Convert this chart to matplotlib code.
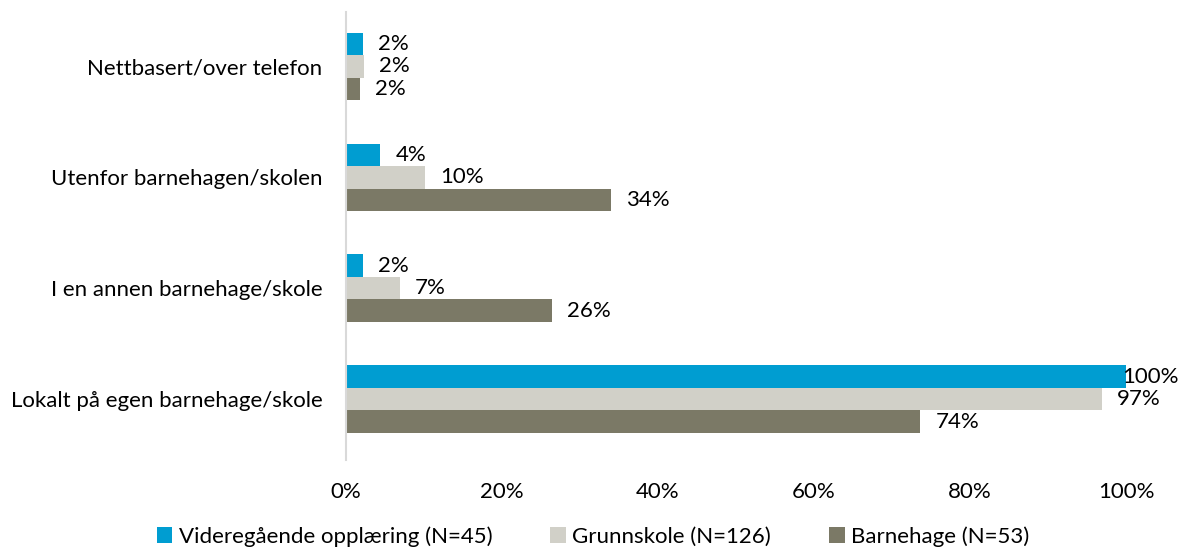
import matplotlib.pyplot as plt
import numpy as np

plt.rcParams['font.family'] = ['Lato', 'DejaVu Sans']

kategorier = ["Lokalt på egen barnehage/skole", "I en annen barnehage/skole",
              "Utenfor barnehagen/skolen", "Nettbasert/over telefon"]
serier = ["Videregående opplæring (N=45)", "Grunnskole (N=126)", "Barnehage (N=53)"]
vgo = [100, 2.2, 4.4, 2.2]
grunnskole = [96.9, 6.9, 10.1, 2.3]
barnehage = [73.6, 26.4, 34.0, 1.8]

farger = ["#009DD1", "#D1D0C8", "#7B7966"]
fs = 16

fig = plt.figure(figsize=(11.86, 5.52), dpi=100)
ax = fig.add_axes([0.2917, 0.1667, 0.6577, 0.8113])

y = np.arange(len(kategorier))
h = 0.203
for verdier, navn, farge, off in zip([vgo, grunnskole, barnehage], serier, farger, [h, 0, -h]):
    stolper = ax.barh(y + off, verdier, height=h, color=farge, label=navn)
    for s, v in zip(stolper, verdier):
        dx = -3 if v >= 99 else 11
        ax.annotate(f"{v:.0f}%", (s.get_width(), s.get_y() + s.get_height() / 2),
                    xytext=(dx, 0), textcoords="offset points", va="center", ha="left",
                    fontsize=fs, color="#000000")

ax.set_xlim(0, 100)
ax.set_ylim(-0.55, 3.49)
ax.set_xticks(range(0, 101, 20))
ax.set_xticklabels([f"{t}%" for t in range(0, 101, 20)], fontsize=fs)
ax.set_yticks(y)
ax.set_yticklabels(kategorier, fontsize=fs)
ax.tick_params(axis="both", length=0)
ax.tick_params(axis="x", pad=16)
ax.tick_params(axis="y", pad=17)
for side in ["top", "right", "bottom"]:
    ax.spines[side].set_visible(False)
ax.spines["left"].set_color("#D9D9D9")
ax.spines["left"].set_linewidth(1.5)

fig.legend(loc="center", bbox_to_anchor=(0.5, 0.028), ncol=3, frameon=False,
           fontsize=fs, handlelength=0.7, handleheight=0.7, handletextpad=0.3,
           columnspacing=2.6)

fig.savefig("out.png", dpi=100)
